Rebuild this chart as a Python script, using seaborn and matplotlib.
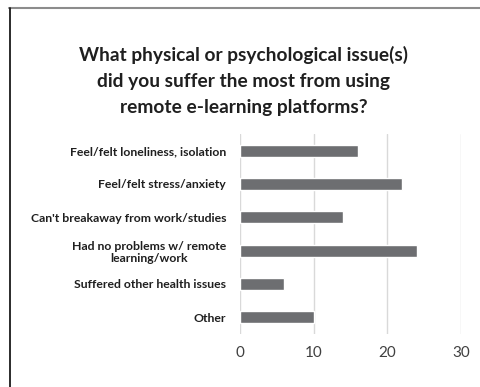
import matplotlib
matplotlib.use("Agg")
import matplotlib.pyplot as plt
from matplotlib.lines import Line2D
import seaborn as sns
import pandas as pd

categories = [
    "Feel/felt loneliness, isolation",
    "Feel/felt stress/anxiety",
    "Can't breakaway from work/studies",
    "Had no problems w/ remote\nlearning/work",
    "Suffered other health issues",
    "Other",
]
counts = [16, 22, 14, 24, 6, 10]
x_ticks = [0, 10, 20, 30]
title = "What physical or psychological issue(s)\ndid you suffer the most from using\nremote e-learning platforms?"

sns.set_theme(style="white")
plt.rcParams["font.family"] = ["Lato", "DejaVu Sans"]

df = pd.DataFrame({"issue": categories, "count": counts})

fig = plt.figure(figsize=(4.8, 3.87), dpi=100)
ax = fig.add_axes([0.5, 0.137, 0.46, 0.517])

sns.barplot(data=df, y="issue", x="count", orient="h", color="#6d6e71",
            width=0.36, saturation=1, ax=ax, zorder=3)

ax.set_xlim(0, 30)
ax.set_xticks(x_ticks)
ax.set_xticklabels([str(t) for t in x_ticks], fontsize=11, color="#404040")
ax.set_xlabel("")
ax.set_ylabel("")
ax.grid(axis="x", color="#d9d9d9", linewidth=1, zorder=0)
ax.grid(axis="y", visible=False)
for s in ax.spines.values():
    s.set_visible(False)
ax.tick_params(axis="x", length=0, pad=9)
ax.tick_params(axis="y", length=0, pad=10)
for lab in ax.get_yticklabels():
    lab.set_fontsize(8.8)
    lab.set_fontweight("bold")
    lab.set_color("#1f1f1f")
    lab.set_horizontalalignment("right")
    lab.set_multialignment("center")

fig.text(0.507, 0.79, title, ha="center", va="center", fontsize=13.8,
         fontweight="bold", color="#1f1f1f", linespacing=1.65)

# frame around the chart area
fig.add_artist(Line2D([9 / 480, 1], [1 - 8 / 387, 1 - 8 / 387],
                      transform=fig.transFigure, color="#8c8c8c", linewidth=1.5))
fig.add_artist(Line2D([9.5 / 480, 9.5 / 480], [0, 1 - 8 / 387],
                      transform=fig.transFigure, color="#1a1a1a", linewidth=1.3))

fig.savefig("out.png", dpi=100, facecolor="white")
